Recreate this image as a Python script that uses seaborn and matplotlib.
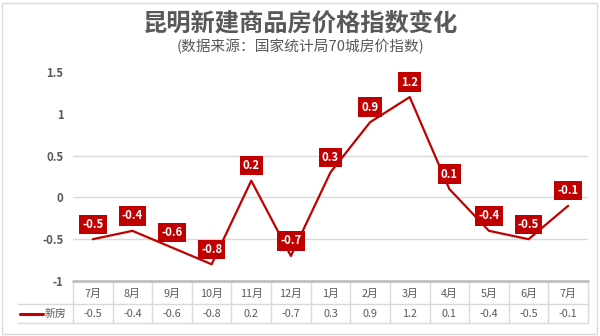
import matplotlib
matplotlib.use("Agg")
import matplotlib.pyplot as plt
import seaborn as sns
import pandas as pd
from matplotlib.patches import Rectangle
from matplotlib.lines import Line2D

months = ["7月", "8月", "9月", "10月", "11月", "12月", "1月", "2月", "3月", "4月", "5月", "6月", "7月"]
values = [-0.5, -0.4, -0.6, -0.8, 0.2, -0.7, 0.3, 0.9, 1.2, 0.1, -0.4, -0.5, -0.1]
series_name = "新房"
yticks = [-1, -0.5, 0, 0.5, 1, 1.5]
ytick_labels = ["-1", "-0.5", "0", "0.5", "1", "1.5"]
grid_values = [-0.5, 0, 0.5]
title = "昆明新建商品房价格指数变化"
subtitle = "(数据来源：国家统计局70城房价指数)"

sns.set_style("white")
plt.rcParams['font.family'] = ['Noto Sans CJK SC', 'DejaVu Sans']

RED = "#C00000"
GRAY = "#595959"
GRID = "#D9D9D9"

W, H = 600, 336
fig = plt.figure(figsize=(W / 100, H / 100), dpi=100)
fig.patch.set_facecolor("white")
fig.add_artist(Rectangle((2 / W, 2 / H), 595 / W, 331 / H, transform=fig.transFigure,
                         fill=False, edgecolor=GRID, linewidth=1))

left, right = 73 / W, 588 / W
bottom, top = (H - 281) / H, (H - 72) / H
ax = fig.add_axes([left, bottom, right - left, top - bottom])

df = pd.DataFrame({"x": list(range(len(values))), "v": values})
for g in grid_values:
    ax.axhline(g, color=GRID, linewidth=1, zorder=0)
ax.axhline(-1, color="#BFBFBF", linewidth=2, zorder=1, clip_on=False)

sns.lineplot(data=df, x="x", y="v", ax=ax, color=RED, linewidth=1.6, zorder=3)

for i, v in enumerate(values):
    ax.annotate(f"{v:g}", (i, v), xytext=(0, 15), textcoords="offset pixels",
                ha="center", va="center", color="white", fontsize=8.2, fontweight="bold",
                bbox=dict(boxstyle="square,pad=0.28", facecolor=RED, edgecolor="none"),
                zorder=5)

ax.set_xlim(-0.5, len(values) - 0.5)
ax.set_ylim(-1, 1.5)
ax.set_yticks(yticks)
ax.set_yticklabels(ytick_labels, color=GRAY, fontsize=8.2, fontweight="bold")
ax.set_xticks([])
ax.tick_params(axis="y", length=0, pad=7)
ax.set_xlabel("")
ax.set_ylabel("")
for s in ax.spines.values():
    s.set_visible(False)

# table below the axis
def fy(py):
    return (H - py) / H

def fx_data(x):
    return fig.transFigure.inverted().transform(ax.transData.transform((x, 0)))[0]

tr = fig.transFigure
for py in (304, 323):
    fig.add_artist(Line2D([18 / W, right], [fy(py), fy(py)], transform=tr, color=GRID, linewidth=1))
for k in range(len(values) + 1):
    xf = fx_data(k - 0.5)
    fig.add_artist(Line2D([xf, xf], [fy(283), fy(323)], transform=tr, color=GRID, linewidth=1))

for i, (m, v) in enumerate(zip(months, values)):
    xf = fx_data(i)
    fig.text(xf, fy(294), m, ha="center", va="center", color=GRAY, fontsize=7.8)
    fig.text(xf, fy(314), f"{v:g}", ha="center", va="center", color=GRAY, fontsize=7.8)

fig.add_artist(Line2D([20 / W, 43 / W], [fy(314), fy(314)], transform=tr, color=RED, linewidth=2.2))
fig.text(45 / W, fy(314), series_name, ha="left", va="center", color=GRAY, fontsize=7.8)

fig.text(0.5, fy(24), title, ha="center", va="center", color="#595959", fontsize=17.5, fontweight="bold")
fig.text(0.5, fy(47), subtitle, ha="center", va="center", color="#595959", fontsize=10.6)

fig.savefig("out.png", dpi=100, facecolor="white")
